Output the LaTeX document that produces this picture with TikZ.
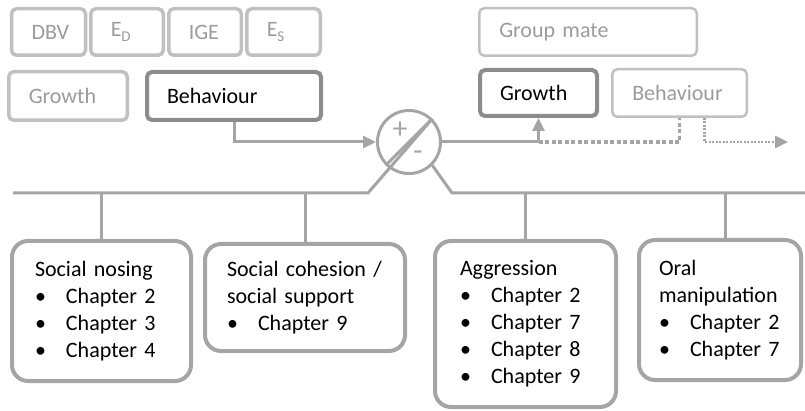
\documentclass[tikz,border=0pt]{standalone}
\usepackage{fontspec}
\setmainfont{Carlito}
\usetikzlibrary{arrows.meta}
\definecolor{linegray}{RGB}{165,165,165}
\definecolor{darkbox}{RGB}{140,140,140}
\definecolor{lightbox}{RGB}{192,192,192}
\definecolor{lighttext}{RGB}{155,155,155}
\newcommand{\nodefont}{\fontsize{22}{27}\selectfont}
\newcommand{\chap}[1]{\makebox[31pt][l]{•}Chapter #1}
\newcommand{\lowsub}[1]{\raisebox{-5pt}{\fontsize{15}{15}\selectfont #1}}
\begin{document}
\begin{tikzpicture}[x=1pt, y=-1pt,
  every node/.style={font=\nodefont, align=left, inner xsep=20pt, inner ysep=0pt},
  faint/.style={draw=lightbox, line width=3.5pt, text=lighttext, rounded corners=5pt},
  faintthin/.style={draw=lightbox, line width=2.5pt, text=lighttext, rounded corners=5pt},
  strong/.style={draw=darkbox, line width=4pt, rounded corners=5pt},
  chapbox/.style={draw=linegray, line width=4pt, rounded corners=16pt},
  link/.style={draw=linegray, line width=3pt},
  sign/.style={text=linegray, inner sep=0pt, font=\fontsize{30}{30}\selectfont},
  dots/.style={draw=linegray, line width=3.5pt, dash pattern=on 4pt off 2.5pt},
  finedots/.style={draw=linegray, line width=2.5pt, dash pattern=on 2pt off 1.5pt},
  tip/.style={-{Triangle[length=13pt,width=12pt]}}
]
\useasboundingbox (0,0) rectangle (805,411);
% focal pig
\node[faint, text width=34pt, minimum height=46.5pt] (dbv) at (48.5,32) {DBV};
\node[faint, text width=32.5pt, minimum height=46.5pt] (ed) at (127,32) {E\lowsub{D}};
\node[faint, text width=32.5pt, minimum height=46.5pt] (ige) at (205,32) {IGE};
\node[faint, text width=33.5pt, minimum height=46.5pt] (es) at (283.5,32) {E\lowsub{S}};
\node[faint, text width=78.5pt, minimum height=48.5pt] (growthL) at (68,96) {Growth};
\node[strong, text width=134pt, minimum height=48pt] (behavL) at (234,96) {Behaviour};
% group mate
\node[faintthin, text width=177.5pt, minimum height=47.5pt] (mate) at (588,32) {Group mate};
\node[strong, text width=77pt, minimum height=46pt] (growthR) at (538.5,93) {Growth};
\node[faintthin, text width=94.5pt, minimum height=47.5pt] (behavR) at (679.5,93) {Behaviour};
% sign of the effect
\node[circle, draw=linegray, line width=3pt, minimum size=63pt, inner sep=0pt] (sum) at (409,142) {};
\node[sign] (plus) at (400,130) {+};
\node[sign] (minus) at (418,156) {-};
\draw[link] (sum.45) -- (sum.225);
% behaviours
\node[chapbox, text width=133pt, inner xsep=23pt, minimum height=140pt] (nosing) at (101.5,311)
  {Social nosing\\\chap{2}\\\chap{3}\\\chap{4}};
\node[chapbox, text width=156pt, inner xsep=22pt, minimum height=107pt] (cohesion) at (305,297.5)
  {Social cohesion /\\social support\\\chap{9}};
\node[chapbox, text width=131pt, inner xsep=25pt, minimum height=166pt] (aggression) at (525.5,324)
  {Aggression\\\chap{2}\\\chap{7}\\\chap{8}\\\chap{9}};
\node[chapbox, text width=122pt, inner xsep=20pt, minimum height=140pt] (oral) at (720,310)
  {Oral\\manipulation\\\chap{2}\\\chap{7}};
% connectors
\coordinate (busL) at (13,193);
\coordinate (kinkL) at (368,193);
\coordinate (kinkR) at (452,193);
\coordinate (busR) at (805,193);
\coordinate (outR) at (788,142);
\draw[link, tip] (behavL.south) |- (sum.west);
\draw[link, tip] (sum.east) -| (growthR.south);
\coordinate (fork) at (growthR.south |- sum.east);
\draw[dots] (fork) -| (behavR.south);
\draw[finedots, tip] ([xshift=25pt]behavR.south) |- (outR);
\draw[link] (sum.45) -- (kinkL) -- (busL);
\draw[link] (sum.-45) -- (kinkR) -- (busR);
\draw[link] (nosing.north |- busL) -- (nosing.north);
\draw[link] (cohesion.north |- busL) -- (cohesion.north);
\draw[link] (aggression.north |- busL) -- (aggression.north);
\draw[link] ([xshift=5pt]oral.north |- busL) -- ([xshift=5pt]oral.north);
\end{tikzpicture}
\end{document}
